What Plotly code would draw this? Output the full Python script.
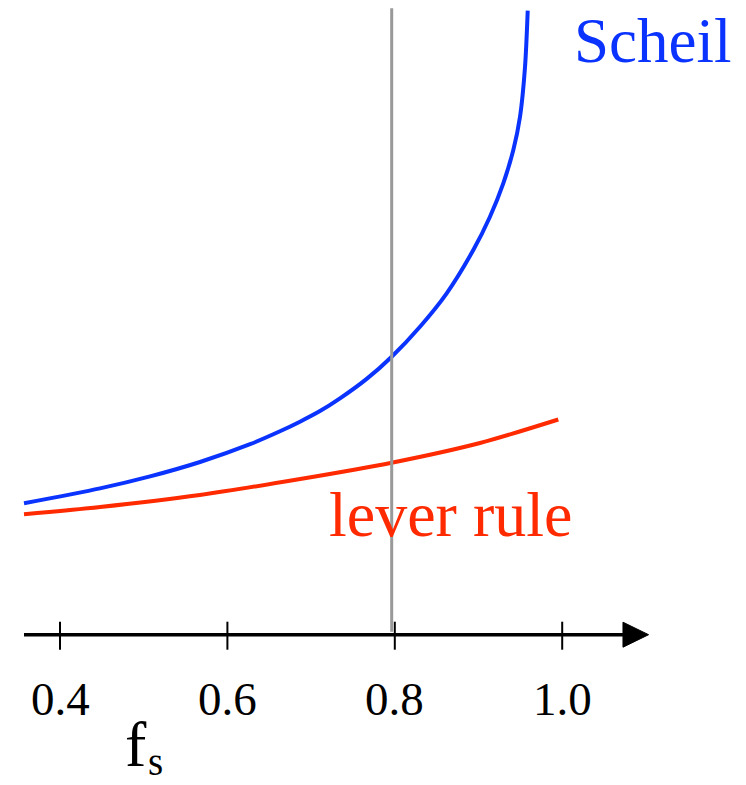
import plotly.graph_objects as go

# Solid fraction and solid composition (arbitrary units) for both models
scheil_fs = [0.357, 0.4478, 0.5076, 0.5673, 0.6271, 0.6628, 0.6867, 0.7106, 0.7345,
             0.7664, 0.7963, 0.8301, 0.862, 0.8938, 0.9137, 0.9296, 0.9416, 0.9496,
             0.9556, 0.9588]
scheil_cs = [1.314, 1.463, 1.583, 1.727, 1.905, 2.034, 2.130, 2.236, 2.363,
             2.558, 2.78, 3.08, 3.414, 3.847, 4.18, 4.514, 4.847, 5.18,
             5.68, 6.24]

lever_fs = [0.357, 0.448, 0.567, 0.687, 0.7963, 0.9018, 0.9953]
lever_cs = [1.204, 1.277, 1.397, 1.557, 1.72, 1.917, 2.152]

tick_vals = [0.4, 0.6, 0.8, 1.0]
tick_text = ["0.4", "0.6", "0.8", "1.0"]

marker_fs = 0.7963          # vertical reference line
axis_start, axis_arrow_base, axis_tip = 0.357, 1.0726, 1.1032

BLUE = "#0A33FF"
RED = "#FF2A00"
GRAY = "#999999"
SERIF = "Liberation Serif, Times New Roman, serif"

fig = go.Figure()
fig.add_trace(go.Scatter(x=scheil_fs, y=scheil_cs, mode="lines",
                         line=dict(color=BLUE, width=4, shape="spline", smoothing=0.8),
                         hoverinfo="skip"))
fig.add_trace(go.Scatter(x=lever_fs, y=lever_cs, mode="lines",
                         line=dict(color=RED, width=4, shape="spline", smoothing=0.8),
                         hoverinfo="skip"))

shapes = []
# horizontal axis with arrow head
shapes.append(dict(type="line", x0=axis_start, x1=axis_arrow_base, y0=0, y1=0,
                   line=dict(color="black", width=3.5)))
shapes.append(dict(type="path",
                   path=f"M {axis_arrow_base} 0.125 L {axis_tip} 0 L {axis_arrow_base} -0.125 Z",
                   fillcolor="black", line=dict(color="black", width=1)))
for tv in tick_vals:
    shapes.append(dict(type="line", x0=tv, x1=tv, y0=0.13, y1=-0.15,
                       line=dict(color="black", width=2)))
# gray vertical marker
shapes.append(dict(type="line", x0=marker_fs, x1=marker_fs, y0=0.03, y1=6.264,
                   line=dict(color=GRAY, width=3)))

annotations = []
for tv, tt in zip(tick_vals, tick_text):
    annotations.append(dict(x=tv, y=-0.64, text=tt, showarrow=False,
                            xanchor="center", yanchor="middle",
                            font=dict(family=SERIF, size=47, color="black")))
# axis title: f with subscript s
annotations.append(dict(x=0.4908, y=-1.098, text="f", showarrow=False,
                        xanchor="center", yanchor="middle",
                        font=dict(family=SERIF, size=64, color="black")))
annotations.append(dict(x=0.5135, y=-1.27, text="s", showarrow=False,
                        xanchor="center", yanchor="middle",
                        font=dict(family=SERIF, size=39, color="black")))
annotations.append(dict(x=1.1079, y=5.94, text="Scheil", showarrow=False,
                        xanchor="center", yanchor="middle",
                        font=dict(family=SERIF, size=63, color=BLUE)))
annotations.append(dict(x=0.8671, y=1.2, text="lever rule", showarrow=False,
                        xanchor="center", yanchor="middle",
                        font=dict(family=SERIF, size=64, color=RED)))

fig.update_layout(
    width=746, height=785,
    margin=dict(l=0, r=0, t=0, b=0),
    paper_bgcolor="white", plot_bgcolor="white",
    showlegend=False,
    xaxis=dict(range=[0.32832, 1.21959], visible=False, fixedrange=True),
    yaxis=dict(range=[-1.503, 6.347], visible=False, fixedrange=True),
    shapes=shapes,
    annotations=annotations,
)

fig.write_html("out.html")
